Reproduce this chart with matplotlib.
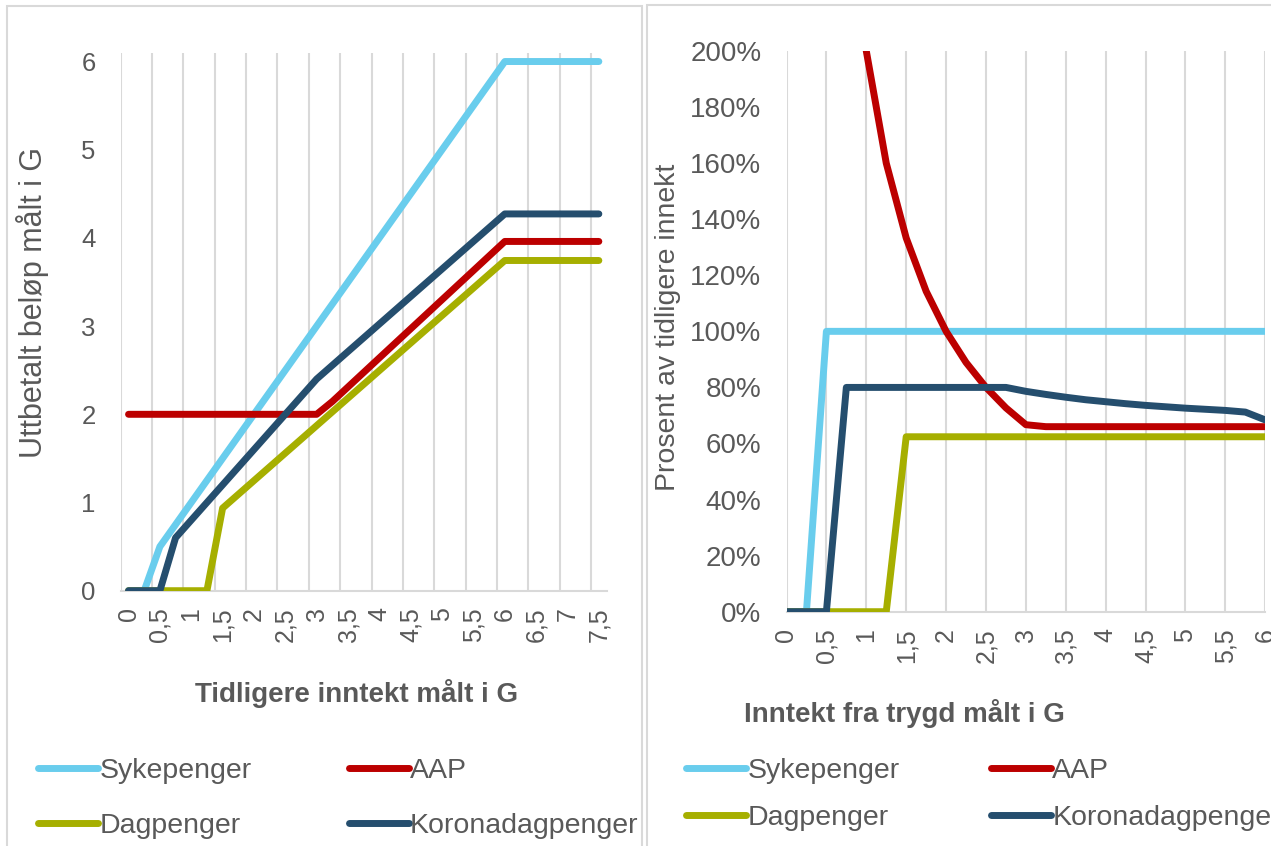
import matplotlib
matplotlib.use("Agg")
import matplotlib.pyplot as plt
import numpy as np
from matplotlib.patches import Rectangle
from matplotlib.lines import Line2D

plt.rcParams['font.family'] = ['Liberation Sans', 'DejaVu Sans']

# ---------------- data ----------------
# Left chart: previous income in G (categories 0 .. 7.5, step 0.25)
left_x_labels = ["0", "0,5", "1", "1,5", "2", "2,5", "3", "3,5", "4", "4,5",
                 "5", "5,5", "6", "6,5", "7", "7,5"]
left_n = 31
syke_left = [0, 0, 0.5, 0.75, 1.0, 1.25, 1.5, 1.75, 2.0, 2.25, 2.5, 2.75, 3.0,
             3.25, 3.5, 3.75, 4.0, 4.25, 4.5, 4.75, 5.0, 5.25, 5.5, 5.75, 6.0,
             6.0, 6.0, 6.0, 6.0, 6.0, 6.0]
aap_left = [2, 2, 2, 2, 2, 2, 2, 2, 2, 2, 2, 2, 2,
            2.145, 2.31, 2.475, 2.64, 2.805, 2.97, 3.135, 3.3, 3.465, 3.63,
            3.795, 3.96, 3.96, 3.96, 3.96, 3.96, 3.96, 3.96]
dag_left = [0, 0, 0, 0, 0, 0, 0.936, 1.092, 1.248, 1.404, 1.56, 1.716, 1.872,
            2.028, 2.184, 2.34, 2.496, 2.652, 2.808, 2.964, 3.12, 3.276, 3.432,
            3.588, 3.744, 3.744, 3.744, 3.744, 3.744, 3.744, 3.744]
korona_left = [0, 0, 0, 0.6, 0.8, 1.0, 1.2, 1.4, 1.6, 1.8, 2.0, 2.2, 2.4,
               2.556, 2.712, 2.868, 3.024, 3.18, 3.336, 3.492, 3.648, 3.804,
               3.96, 4.116, 4.272, 4.272, 4.272, 4.272, 4.272, 4.272, 4.272]
left_y_ticks = [0, 1, 2, 3, 4, 5, 6]

# Right chart: income from benefits in G (categories 0 .. 6, step 0.25)
right_x_labels = ["0", "0,5", "1", "1,5", "2", "2,5", "3", "3,5", "4", "4,5",
                  "5", "5,5", "6"]
right_n = 25
syke_right = [0, 0, 1.0, 1.0, 1.0, 1.0, 1.0, 1.0, 1.0, 1.0, 1.0, 1.0, 1.0,
              1.0, 1.0, 1.0, 1.0, 1.0, 1.0, 1.0, 1.0, 1.0, 1.0, 1.0, 1.0]
aap_right = [np.nan, 8.0, 4.0, 2.667, 2.0, 1.6, 1.333, 1.143, 1.0, 0.889, 0.8,
             0.727, 0.667, 0.66, 0.66, 0.66, 0.66, 0.66, 0.66, 0.66, 0.66,
             0.66, 0.66, 0.66, 0.66]
dag_right = [0, 0, 0, 0, 0, 0, 0.624, 0.624, 0.624, 0.624, 0.624, 0.624, 0.624,
             0.624, 0.624, 0.624, 0.624, 0.624, 0.624, 0.624, 0.624, 0.624,
             0.624, 0.624, 0.624]
korona_right = [0, 0, 0, 0.8, 0.8, 0.8, 0.8, 0.8, 0.8, 0.8, 0.8, 0.8, 0.786,
                0.775, 0.765, 0.756, 0.749, 0.742, 0.736, 0.731, 0.726, 0.722,
                0.718, 0.712, 0.684]
right_y_ticks = [0, 0.2, 0.4, 0.6, 0.8, 1.0, 1.2, 1.4, 1.6, 1.8, 2.0]

series_names = ["Sykepenger", "AAP", "Dagpenger", "Koronadagpenger"]
colors = {"Sykepenger": "#69CDED", "AAP": "#BC0000",
          "Dagpenger": "#A6AF00", "Koronadagpenger": "#254E6E"}

TXT = "#595959"
GRID = "#D9D9D9"

W, H = 1271, 846
fig = plt.figure(figsize=(W / 100, H / 100), dpi=100)
fig.patch.set_facecolor("white")

def px_axes(x0, y0, x1, y1):
    return fig.add_axes([x0 / W, 1 - y1 / H, (x1 - x0) / W, (y1 - y0) / H])

# chart-area borders
fig.patches.append(Rectangle((7 / W, -0.1), (642 - 7) / W, 1.1 - 6 / H,
                             transform=fig.transFigure, fill=False,
                             edgecolor=GRID, linewidth=1.5, zorder=0))
fig.patches.append(Rectangle((647 / W, -0.1), 0.5, 1.1 - 5 / H,
                             transform=fig.transFigure, fill=False,
                             edgecolor=GRID, linewidth=1.5, zorder=0))

LW = 5.0

def style_axes(ax):
    for s in ["top", "right", "left"]:
        ax.spines[s].set_visible(False)
    ax.spines["bottom"].set_color(GRID)
    ax.spines["bottom"].set_linewidth(1.5)
    ax.tick_params(axis="both", length=0, colors=TXT)

# ---------------- left chart ----------------
axL = px_axes(120.7, 52.7, 606.7, 590.7)
style_axes(axL)
xl = np.arange(left_n)
data_left = {"Sykepenger": syke_left, "AAP": aap_left,
             "Dagpenger": dag_left, "Koronadagpenger": korona_left}
for name in series_names:
    axL.plot(xl, data_left[name], color=colors[name], lw=LW,
             solid_capstyle="round", solid_joinstyle="round", zorder=3)
axL.set_xlim(-0.5, left_n - 0.5)
axL.set_ylim(0, 6.1)
for g in np.arange(-0.5, left_n - 0.5, 2):
    axL.axvline(g, color=GRID, lw=1.5, zorder=1)
axL.set_xticks(np.arange(0, left_n, 2))
axL.set_xticklabels(left_x_labels, rotation=90, va="top", ha="center",
                    fontsize=18)
axL.set_yticks(left_y_ticks)
axL.set_yticklabels([str(v) for v in left_y_ticks], fontsize=18.5)
axL.tick_params(axis="x", pad=12)
axL.tick_params(axis="y", pad=18)

fig.text(33 / W, 1 - 303 / H, "Uttbetalt beløp målt i G", rotation=90,
         ha="center", va="center", fontsize=22, color=TXT)
fig.text(357 / W, 1 - 694 / H, "Tidligere inntekt målt i G", ha="center",
         va="center", fontsize=20, color=TXT, fontweight="bold")

# ---------------- right chart ----------------
axR = px_axes(786.5, 51, 1265.3, 611.7)
style_axes(axR)
xr = np.arange(right_n)
data_right = {"Sykepenger": syke_right, "AAP": aap_right,
              "Dagpenger": dag_right, "Koronadagpenger": korona_right}
for name in series_names:
    axR.plot(xr, data_right[name], color=colors[name], lw=LW,
             solid_capstyle="round", solid_joinstyle="round", zorder=3)
axR.set_xlim(0, right_n - 1)
axR.set_ylim(0, 2.0)
for g in np.arange(0, right_n, 2):
    axR.axvline(g, color=GRID, lw=1.5, zorder=1)
axR.set_xticks(np.arange(0, right_n, 2))
axR.set_xticklabels(right_x_labels, rotation=90, va="top", ha="center",
                    fontsize=18)
axR.set_yticks(right_y_ticks)
axR.set_yticklabels([f"{int(round(v * 100))}%" for v in right_y_ticks],
                    fontsize=20)
axR.tick_params(axis="x", pad=12)
axR.tick_params(axis="y", pad=18)

fig.text(668 / W, 1 - 327 / H, "Prosent av tidligere innekt", rotation=90,
         ha="center", va="center", fontsize=20.5, color=TXT)
fig.text(904 / W, 1 - 713 / H, "Inntekt fra trygd målt i G", ha="center",
         va="center", fontsize=20, color=TXT, fontweight="bold")

# ---------------- legends ----------------
# order so that rows read: Sykepenger, AAP / Dagpenger, Koronadagpenger
legend_order = ["Sykepenger", "Dagpenger", "AAP", "Koronadagpenger"]
handles = [Line2D([], [], color=colors[n], lw=LW, solid_capstyle="round")
           for n in legend_order]

def add_legend(x_px, y_px, spacing, colspace):
    fig.legend(handles, legend_order, ncol=2, loc="upper left",
               bbox_to_anchor=(x_px / W, 1 - y_px / H), frameon=False,
               fontsize=20.5, labelcolor=TXT, handlelength=2.1,
               handletextpad=0.05, columnspacing=colspace,
               labelspacing=spacing, borderaxespad=0, borderpad=0)

add_legend(38, 758, 1.02, 3.42)
add_legend(686, 758, 0.72, 3.22)

fig.savefig("out.png", dpi=100, facecolor="white")
